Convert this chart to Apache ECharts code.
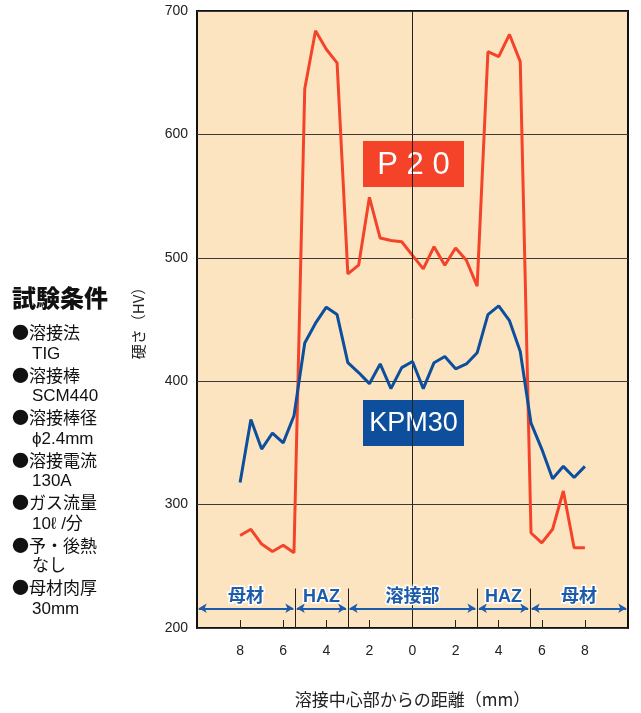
<!DOCTYPE html>
<html>
<head>
<meta charset="utf-8">
<script src="https://cdn.jsdelivr.net/npm/echarts@6/dist/echarts.min.js"></script>
<style>
  html, body { margin: 0; padding: 0; background: #fff; }
  #container { width: 641px; height: 713px; }
</style>
</head>
<body>
<div id="container"></div>
<script>
// 溶接中心部からの距離 (mm), 左側は負
var distance = [-8, -7.5, -7, -6.5, -6, -5.5, -5, -4.5, -4, -3.5, -3, -2.5, -2, -1.5, -1, -0.5,
    0, 0.5, 1, 1.5, 2, 2.5, 3, 3.5, 4, 4.5, 5, 5.5, 6, 6.5, 7, 7.5, 8];
var p20 = [275, 280, 268, 262, 267, 261, 637, 684, 669, 658, 487, 494, 549, 516, 514, 513,
    502, 491, 509, 494, 508, 498, 477, 667, 663, 681, 659, 277, 269, 280, 311, 265, 265];
var kpm30 = [318, 369, 345, 358, 350, 372, 431, 447, 460, 454, 415, 407, 398, 414, 394, 411,
    416, 394, 415, 420, 410, 414, 423, 454, 461, 449, 424, 366, 345, 321, 331, 322, 331];
var tickValues = [-8, -6, -4, -2, 0, 2, 4, 6, 8];
var zoneNames = ['母材', 'HAZ', '溶接部', 'HAZ', '母材'];
var zoneEdges = [-10, -5.45, -3, 3, 5.45, 10];
var condTitles = ['溶接法', '溶接棒', '溶接棒径', '溶接電流', 'ガス流量', '予・後熱', '母材肉厚'];
var condValues = ['TIG', 'SCM440', 'ϕ2.4mm', '130A', '10ℓ /分', 'なし', '30mm'];

var RED = '#f5432a';
var BLUE = '#0d4f9c';
var ZONE_BLUE = '#1d5cab';

function pairs(ys) {
    return distance.map(function (d, i) { return [d, ys[i]]; });
}

// ゾーン表示 (矢印・区切り線)
var zoneLines = [];
for (var i = 0; i < zoneNames.length; i++) {
    zoneLines.push([
        { coord: [zoneEdges[i] + 0.08, 216], name: zoneNames[i],
          lineStyle: { color: ZONE_BLUE, width: 2, type: 'solid' },
          label: { show: true, position: 'insideMiddleTop', formatter: '{b}', distance: 2,
                   color: ZONE_BLUE, fontSize: 18, fontWeight: 'bold',
                   fontFamily: '"Liberation Sans", "Noto Sans CJK JP", sans-serif',
                   textBorderColor: '#fff', textBorderWidth: 3 } },
        { coord: [zoneEdges[i + 1] - 0.08, 216] }
    ]);
}
var dividers = [];
for (var j = 1; j < zoneEdges.length - 1; j++) {
    dividers.push([
        { coord: [zoneEdges[j], 200], symbol: 'none' },
        { coord: [zoneEdges[j], 232], symbol: 'none' }
    ]);
}

// 試験条件
var condGraphics = [{
    type: 'text', x: 12, y: 298,
    style: { text: '試験条件', fill: '#111', textVerticalAlign: 'middle',
             font: '900 24px "Noto Sans CJK JP", sans-serif' }
}];
condTitles.forEach(function (t, k) {
    var y = 333 + k * 42.5;
    condGraphics.push({
        type: 'text', x: 12, y: y, style: { text: '●' + t, fill: '#111', textVerticalAlign: 'middle',
            font: '17px "Noto Sans CJK JP", sans-serif' }
    });
    condGraphics.push({
        type: 'text', x: 32, y: y + 21, style: { text: condValues[k], fill: '#111', textVerticalAlign: 'middle',
            font: '17px "Liberation Sans", "Noto Sans CJK JP", sans-serif' }
    });
});

var dom = document.getElementById('container');
var myChart = echarts.init(dom);
var option = {
    animation: false,
    backgroundColor: '#fff',
    grid: {
        left: 197, right: 13, top: 11, bottom: 81,
        show: true, backgroundColor: '#fde4c1', borderColor: '#111', borderWidth: 2
    },
    xAxis: {
        type: 'value', min: -10, max: 10, interval: 2,
        name: '溶接中心部からの距離（mm）', nameLocation: 'middle', nameGap: 63,
        nameTextStyle: { color: '#222', fontSize: 17, fontFamily: 'Noto Sans CJK JP, sans-serif' },
        axisLine: { show: false },
        axisTick: { show: true, inside: true, length: 8, customValues: tickValues,
                    lineStyle: { color: '#222', width: 1 } },
        axisLabel: { customValues: tickValues, margin: 16, color: '#222', fontSize: 14,
                     fontFamily: 'Liberation Sans, Arial, sans-serif',
                     formatter: function (v) { return String(Math.abs(v)); } },
        splitLine: { show: false }
    },
    yAxis: {
        type: 'value', min: 200, max: 700, interval: 100,
        name: '硬さ（HV）', nameLocation: 'middle', nameGap: 51,
        nameTextStyle: { color: '#222', fontSize: 15, fontFamily: 'Noto Sans CJK JP, sans-serif' },
        axisLine: { show: false },
        axisTick: { show: false },
        axisLabel: { margin: 9, color: '#222', fontSize: 14, fontFamily: 'Liberation Sans, Arial, sans-serif' },
        splitLine: { show: true, lineStyle: { color: '#3a3a3a', width: 1 } }
    },
    series: [
        {
            name: 'guide', type: 'line', data: [], z: 1, silent: true,
            markLine: {
                silent: true, symbol: 'none', animation: false,
                label: { show: false },
                lineStyle: { color: '#222', width: 1, type: 'solid' },
                data: [[{ coord: [0, 200] }, { coord: [0, 700] }]].concat(dividers)
            }
        },
        {
            name: 'zones', type: 'line', data: [], z: 3, silent: true,
            markLine: {
                silent: true, symbol: ['arrow', 'arrow'], symbolSize: [7, 8], animation: false,
                data: zoneLines
            }
        },
        {
            name: 'P20', type: 'line', data: pairs(p20), showSymbol: false, z: 4,
            lineStyle: { color: RED, width: 3 }, itemStyle: { color: RED }
        },
        {
            name: 'KPM30', type: 'line', data: pairs(kpm30), showSymbol: false, z: 5,
            lineStyle: { color: BLUE, width: 3 }, itemStyle: { color: BLUE }
        }
    ],
    graphic: condGraphics.concat([
        {
            type: 'group', left: 363, top: 141, z: 10,
            children: [
                { type: 'rect', shape: { x: 0, y: 0, width: 101, height: 46 }, style: { fill: RED } },
                { type: 'text', x: 50.5, y: 24, style: { text: 'P 2 0', fill: '#fff', textAlign: 'center',
                    textVerticalAlign: 'middle', font: '31px "Liberation Sans", Arial, sans-serif' } }
            ]
        },
        {
            type: 'group', left: 363, top: 400, z: 10,
            children: [
                { type: 'rect', shape: { x: 0, y: 0, width: 101, height: 46 }, style: { fill: BLUE } },
                { type: 'text', x: 50.5, y: 24, style: { text: 'KPM30', fill: '#fff', textAlign: 'center',
                    textVerticalAlign: 'middle', font: '27px "Liberation Sans", Arial, sans-serif' } }
            ]
        }
    ])
};
myChart.setOption(option, true);
</script>
</body>
</html>
